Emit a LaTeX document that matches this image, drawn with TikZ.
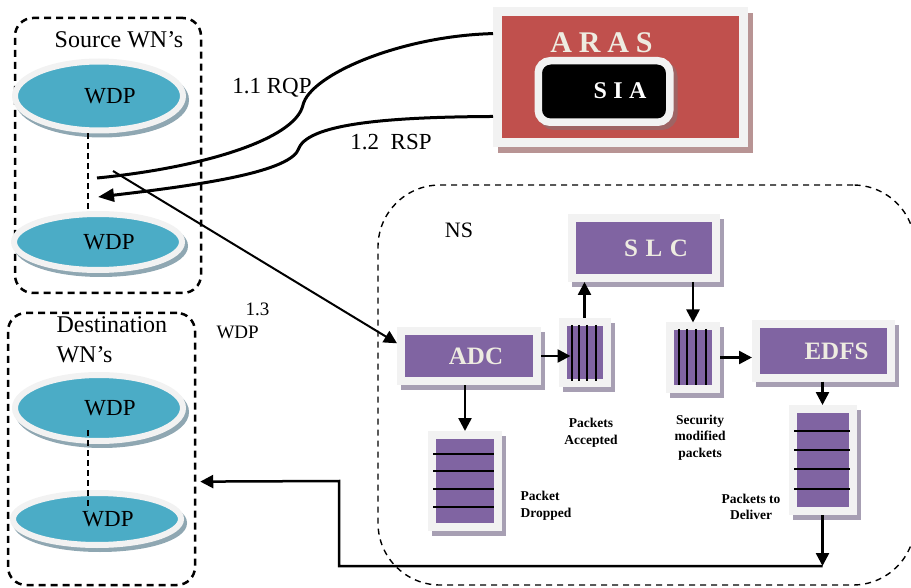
\documentclass[tikz,border=0pt]{standalone}
\usepackage{fontspec}
\setmainfont{Liberation Serif}
\usetikzlibrary{arrows.meta,shapes.geometric}
\definecolor{wdpcyan}{HTML}{4BACC6}
\definecolor{wdpshade}{HTML}{8FA7B2}
\definecolor{frame}{HTML}{F2F2F2}
\definecolor{unitpurple}{HTML}{8064A2}
\definecolor{unitshade}{HTML}{A79FB3}
\definecolor{cream}{HTML}{EEECE1}
\definecolor{arasred}{HTML}{C0504D}
\definecolor{arasshade}{HTML}{B89494}
\definecolor{siashade}{HTML}{9E6464}
\begin{document}
\begin{tikzpicture}[x=1pt,y=-1pt,>={Triangle[length=13pt,width=13pt]}]
        \tikzstyle{group}=[rectangle,draw,line width=2.5pt,dash pattern=on 7pt off 5pt,rounded corners=18pt,inner sep=0pt]
        \tikzstyle{nsgroup}=[rectangle,draw,line width=1.4pt,dash pattern=on 6pt off 5pt,rounded corners=62pt,inner sep=0pt]
        \tikzstyle{wdp}=[ellipse,fill=wdpcyan,draw=frame,line width=6pt,minimum width=168pt,inner sep=0pt,
          preaction={fill=wdpshade,draw=wdpshade,line width=6pt,transform canvas={shift={(3pt,-4pt)}}},
          label={[font=\fontsize{23}{23}\selectfont,xshift=11pt]center:WDP}]
        \tikzstyle{unit}=[rectangle,fill=unitpurple,draw=frame,line width=8pt,outer sep=4pt,inner sep=0pt,
          preaction={fill=unitshade,draw=unitshade,line width=8pt,transform canvas={shift={(4pt,-5pt)}}}]
        \tikzstyle{unittext}=[text=cream,font=\bfseries\fontsize{25}{25}\selectfont]
        \tikzstyle{qline}=[line width=2pt]
        \tikzstyle{link}=[line width=1.5pt,dash pattern=on 6pt off 4pt]
        \tikzstyle{flow}=[->,line width=2.5pt]
        \tikzstyle{note}=[font=\bfseries\fontsize{13.5}{16.5}\selectfont,align=center]
        \useasboundingbox (0,0) rectangle (911,588);

        \node [group,minimum width=186pt,minimum height=275pt] (src) at (108,155.5) {};
        \node [group,minimum width=187pt,minimum height=272pt] (dst) at (101.5,449) {};
        \node [nsgroup,minimum width=537pt,minimum height=400pt] (ns) at (646.5,385) {};

        \node [anchor=base,font=\fontsize{24}{24}\selectfont] (srctitle) at (119,48) {Source WN’s};
        \node [anchor=base west,align=left,font=\fontsize{24}{29}\selectfont] (dsttitle) at (53,362) {Destination\\WN’s};
        \node [anchor=base,font=\fontsize{22}{22}\selectfont] (nstitle) at (459,238) {NS};

        \node [wdp,minimum height=69pt] (swdp1) at (99,96) {};
        \node [wdp,minimum height=56pt] (swdp2) at (98,242) {};
        \node [wdp,minimum height=66pt] (dwdp1) at (99,408) {};
        \node [wdp,minimum height=52pt] (dwdp2) at (97,519) {};
        \draw [link] ([xshift=-11pt]swdp1.south) -- ([xshift=-10pt]swdp2.north);
        \draw [link] ([xshift=-11pt,yshift=-22pt]dwdp1.center) -- ([xshift=-9pt,yshift=9pt]dwdp2.center);

        \node [rectangle,fill=arasred,draw=frame,line width=9pt,outer sep=4.5pt,minimum width=246pt,minimum height=131pt,
          preaction={fill=arasshade,draw=arasshade,line width=9pt,transform canvas={shift={(5pt,-6pt)}}}] (aras) at (620.5,77.5) {};
        \node [anchor=base,text=cream,font=\bfseries\fontsize{30}{30}\selectfont\addfontfeature{LetterSpace=23}] (arastitle) at (601.5,53) {ARAS};
        \node [rectangle,rounded corners=12pt,fill=black,draw=frame,line width=7.5pt,minimum width=131.5pt,minimum height=61.5pt,
          preaction={fill=siashade,draw=siashade,line width=7.5pt,transform canvas={shift={(4pt,-4pt)}}}] (sia) at (604,91.5) {};
        \node [anchor=base,text=white,font=\bfseries\fontsize{24}{24}\selectfont\addfontfeature{LetterSpace=27}] (siatext) at (620,99) {SIA};

        \coordinate (rqpend) at (97,178);
        \coordinate (rspend) at (98,197);
        \draw [line width=3pt] (rqpend) .. controls (200,168) and (295,140) .. (303,105) .. controls (310,75) and (400,36) .. (aras.161);
        \draw [line width=3pt,->,>={Triangle[length=16pt,width=13pt]}] (aras.197) .. controls (400,117) and (310,122) .. (299,148) .. controls (292,172) and (200,185) .. (rspend);
        \node [anchor=base,font=\fontsize{23}{23}\selectfont] (rqp) at (272,94) {1.1 RQP};
        \node [anchor=base,font=\fontsize{23}{23}\selectfont] (rsp) at (391,150) {1.2~~RSP};

        \node [unit,minimum width=144pt,minimum height=60pt,label={[unittext,xshift=12pt]center:{\addfontfeature{LetterSpace=30}SLC}}] (slc) at (644,248) {};
        \node [unit,minimum width=136pt,minimum height=50pt,label={[unittext,xshift=7pt]center:ADC}] (adc) at (469,356) {};
        \node [unit,minimum width=135pt,minimum height=53pt,label={[unittext,xshift=13pt]center:EDFS}] (edfs) at (823.5,351) {};
        \node [unit,minimum width=44pt,minimum height=61pt] (acc) at (584.5,352.5) {};
        \node [unit,minimum width=46pt,minimum height=62pt] (sec) at (693,357.5) {};
        \node [unit,minimum width=66pt,minimum height=92pt] (drop) at (465,481) {};
        \node [unit,minimum width=60pt,minimum height=102pt] (dlv) at (822.5,460) {};
        \foreach \x in {572,579,587,596} \draw [qline] (\x,325) -- (\x,381);
        \foreach \x in {679,687,696,706} \draw [qline] (\x,329) -- (\x,385);
        \foreach \y in {454,471,488.5,507} \draw [qline] (433,\y) -- (494,\y);
        \foreach \y in {431,450,469,489} \draw [qline] (794,\y) -- (850,\y);

        \node [note,anchor=base] (acclbl) at (591,444) {Packets\\Accepted};
        \node [note,anchor=base] (seclbl) at (700,457) {Security\\modified\\packets};
        \node [note,anchor=base west,align=left] (droplbl) at (517,517) {Packet\\Dropped};
        \node [note,anchor=base] (dlvlbl) at (751,519.5) {Packets to\\Deliver};

        \draw [flow] (adc.south -| drop.north) -- (drop.north);
        \draw [flow,shorten >=-12pt] (adc.east) -- (adc.east -| acc.west);
        \draw [flow] (acc.north) -- (acc.north |- slc.south);
        \draw [flow] (slc.south -| sec.north) -- (sec.north);
        \draw [flow] (sec.east) -- (sec.east -| edfs.west);
        \draw [flow] (edfs.south -| dlv.north) -- (dlv.north);

        \coordinate (wdpout) at (113,171);
        \draw [flow,line width=2pt] (wdpout) -- (adc.170);
        \node [anchor=base west,align=left,font=\fontsize{19}{23}\selectfont] (wdplbl) at (213,338) {\hspace*{29pt}1.3\\WDP};

        \coordinate (ret) at (822.5,566);
        \coordinate (bend) at (339,481);
        \draw [flow] (dlv.south) -- (ret);
        \draw [flow,shorten >=4pt] (ret) -| (bend) -- (dst.341);
      \end{tikzpicture}
\end{document}
